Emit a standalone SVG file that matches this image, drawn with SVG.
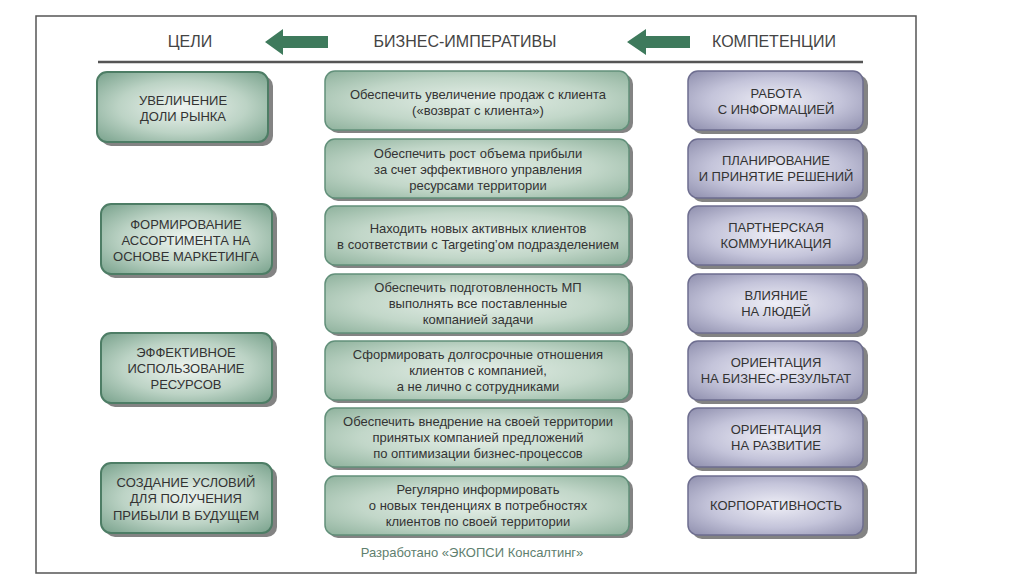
<svg xmlns="http://www.w3.org/2000/svg" width="1024" height="576" viewBox="0 0 1024 576">
<defs>
<radialGradient id="gL" cx="0.5" cy="0.5" r="0.75">
<stop offset="0" stop-color="#eef4f0"/><stop offset="0.5" stop-color="#bcd3c5"/><stop offset="1" stop-color="#6e9a83"/>
</radialGradient>
<radialGradient id="gM" cx="0.5" cy="0.5" r="0.7">
<stop offset="0" stop-color="#e4eee7"/><stop offset="0.55" stop-color="#c2d7c9"/><stop offset="1" stop-color="#8fb29d"/>
</radialGradient>
<radialGradient id="gR" cx="0.5" cy="0.5" r="0.75">
<stop offset="0" stop-color="#eeeef6"/><stop offset="0.5" stop-color="#c4c4da"/><stop offset="1" stop-color="#8686a6"/>
</radialGradient>
</defs>
<style>
.sh{fill:#5a5a5a;opacity:0.75}
.l{fill:url(#gL);stroke:#4d7d65;stroke-width:2}
.m{fill:url(#gM);stroke:#62907a;stroke-width:1.5}
.r{fill:url(#gR);stroke:#6e6e90;stroke-width:1.5}
text{font-family:"Liberation Sans",Arial,sans-serif;fill:#333;text-anchor:middle}
.tl{font-size:13px}
.tm{font-size:13px}
.tr{font-size:13px}
.h{font-size:16px;fill:#444}
.f{font-size:13px;fill:#5f7f6f}
.arr{fill:#3e7a5c}
</style>
<rect x="0" y="0" width="1024" height="576" fill="#fff"/>
<rect x="36" y="16" width="880" height="557" fill="#fff" stroke="#555" stroke-width="1.5"/>
<line x1="98" y1="62" x2="863" y2="62" stroke="#555" stroke-width="2.5"/>
<text class="h" x="190" y="47">ЦЕЛИ</text>
<text class="h" x="465" y="47">БИЗНЕС-ИМПЕРАТИВЫ</text>
<text class="h" x="774" y="47">КОМПЕТЕНЦИИ</text>
<g id="connectors">
<polygon class="arr" points="265,42 283,29 283,36 328,36 328,48 283,48 283,55"/>
<polygon class="arr" points="627,42 646,29 646,36 690,36 690,48 646,48 646,55"/>
</g>
<g id="goal1"><rect class="sh" x="101" y="76" width="172" height="70" rx="10"/><rect class="l" x="97" y="72" width="171" height="70" rx="10"/><text class="tl" x="183" y="105">УВЕЛИЧЕНИЕ</text><text class="tl" x="183" y="121">ДОЛИ РЫНКА</text></g>
<g id="goal2"><rect class="sh" x="105" y="208" width="172" height="70" rx="10"/><rect class="l" x="101" y="204" width="171" height="70" rx="10"/><text class="tl" x="186" y="229">ФОРМИРОВАНИЕ</text><text class="tl" x="186" y="245">АССОРТИМЕНТА НА</text><text class="tl" x="186" y="261">ОСНОВЕ МАРКЕТИНГА</text></g>
<g id="goal3"><rect class="sh" x="105" y="337" width="172" height="70" rx="10"/><rect class="l" x="101" y="333" width="171" height="70" rx="10"/><text class="tl" x="186" y="357">ЭФФЕКТИВНОЕ</text><text class="tl" x="186" y="373">ИСПОЛЬЗОВАНИЕ</text><text class="tl" x="186" y="389">РЕСУРСОВ</text></g>
<g id="goal4"><rect class="sh" x="105" y="467" width="172" height="70" rx="10"/><rect class="l" x="101" y="463" width="171" height="70" rx="10"/><text class="tl" x="186" y="487">СОЗДАНИЕ УСЛОВИЙ</text><text class="tl" x="186" y="503">ДЛЯ ПОЛУЧЕНИЯ</text><text class="tl" x="186" y="520">ПРИБЫЛИ В БУДУЩЕМ</text></g>
<g id="imp1"><rect class="sh" x="328" y="74" width="305" height="59" rx="10"/><rect class="m" x="325" y="71" width="304" height="59" rx="10"/><text class="tm" x="478" y="99">Обеспечить увеличение продаж с клиента</text><text class="tm" x="478" y="115">(«возврат  с клиента»)</text></g>
<g id="imp2"><rect class="sh" x="328" y="142" width="305" height="59" rx="10"/><rect class="m" x="325" y="139" width="304" height="59" rx="10"/><text class="tm" x="478" y="158">Обеспечить рост объема прибыли</text><text class="tm" x="478" y="174">за счет эффективного  управления</text><text class="tm" x="478" y="190">ресурсами территории</text></g>
<g id="imp3"><rect class="sh" x="328" y="209" width="305" height="59" rx="10"/><rect class="m" x="325" y="206" width="304" height="59" rx="10"/><text class="tm" x="478" y="233">Находить новых активных клиентов</text><text class="tm" x="478" y="249">в соответствии с  Targeting’ом подразделением</text></g>
<g id="imp4"><rect class="sh" x="328" y="277" width="305" height="59" rx="10"/><rect class="m" x="325" y="274" width="304" height="59" rx="10"/><text class="tm" x="478" y="292">Обеспечить подготовленность МП</text><text class="tm" x="478" y="308">выполнять  все поставленные</text><text class="tm" x="478" y="324">компанией задачи</text></g>
<g id="imp5"><rect class="sh" x="328" y="344" width="305" height="59" rx="10"/><rect class="m" x="325" y="341" width="304" height="59" rx="10"/><text class="tm" x="478" y="359">Сформировать  долгосрочные отношения</text><text class="tm" x="478" y="375">клиентов с компанией,</text><text class="tm" x="478" y="391">а не лично с сотрудниками</text></g>
<g id="imp6"><rect class="sh" x="328" y="411" width="305" height="59" rx="10"/><rect class="m" x="325" y="408" width="304" height="59" rx="10"/><text class="tm" x="478" y="426">Обеспечить внедрение на своей территории</text><text class="tm" x="478" y="442">принятых компанией предложений</text><text class="tm" x="478" y="458">по оптимизации бизнес-процессов</text></g>
<g id="imp7"><rect class="sh" x="328" y="479" width="305" height="59" rx="10"/><rect class="m" x="325" y="476" width="304" height="59" rx="10"/><text class="tm" x="478" y="494">Регулярно информировать</text><text class="tm" x="478" y="510">о новых тенденциях в потребностях</text><text class="tm" x="478" y="526">клиентов по своей территории</text></g>
<g id="comp1"><rect class="sh" x="692" y="75" width="176" height="59" rx="10"/><rect class="r" x="688" y="71" width="175" height="59" rx="10"/><text class="tr" x="776" y="98">РАБОТА</text><text class="tr" x="776" y="114">С ИНФОРМАЦИЕЙ</text></g>
<g id="comp2"><rect class="sh" x="692" y="143" width="176" height="59" rx="10"/><rect class="r" x="688" y="139" width="175" height="59" rx="10"/><text class="tr" x="776" y="165">ПЛАНИРОВАНИЕ</text><text class="tr" x="776" y="181">И ПРИНЯТИЕ РЕШЕНИЙ</text></g>
<g id="comp3"><rect class="sh" x="692" y="210" width="176" height="59" rx="10"/><rect class="r" x="688" y="206" width="175" height="59" rx="10"/><text class="tr" x="776" y="232">ПАРТНЕРСКАЯ</text><text class="tr" x="776" y="248">КОММУНИКАЦИЯ</text></g>
<g id="comp4"><rect class="sh" x="692" y="278" width="176" height="59" rx="10"/><rect class="r" x="688" y="274" width="175" height="59" rx="10"/><text class="tr" x="776" y="300">ВЛИЯНИЕ</text><text class="tr" x="776" y="316">НА ЛЮДЕЙ</text></g>
<g id="comp5"><rect class="sh" x="692" y="345" width="176" height="59" rx="10"/><rect class="r" x="688" y="341" width="175" height="59" rx="10"/><text class="tr" x="776" y="367">ОРИЕНТАЦИЯ</text><text class="tr" x="776" y="383">НА БИЗНЕС-РЕЗУЛЬТАТ</text></g>
<g id="comp6"><rect class="sh" x="692" y="412" width="176" height="59" rx="10"/><rect class="r" x="688" y="408" width="175" height="59" rx="10"/><text class="tr" x="776" y="434">ОРИЕНТАЦИЯ</text><text class="tr" x="776" y="450">НА РАЗВИТИЕ</text></g>
<g id="comp7"><rect class="sh" x="692" y="480" width="176" height="59" rx="10"/><rect class="r" x="688" y="476" width="175" height="59" rx="10"/><text class="tr" x="776" y="510">КОРПОРАТИВНОСТЬ</text></g>
<text class="f" x="472" y="557">Разработано «ЭКОПСИ Консалтинг»</text>
</svg>
